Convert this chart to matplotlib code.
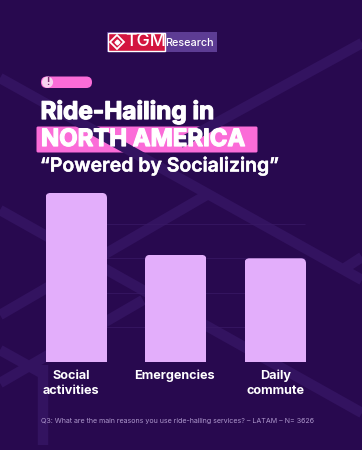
import matplotlib
matplotlib.use("Agg")
import matplotlib.pyplot as plt
import matplotlib.patheffects as pe
from matplotlib.patches import FancyBboxPatch, Rectangle, Circle
from matplotlib.transforms import IdentityTransform

plt.rcParams['font.family'] = ['Inter', 'DejaVu Sans']

categories = ["Social\nactivities", "Emergencies", "Daily\ncommute"]
values = [49, 31, 30]
grid_ticks = [10, 20, 30, 40]

title_top = "Ride-Hailing in"
title_mid = "NORTH AMERICA"
title_low = "\u201cPowered by Socializing\u201d"
footnote = "Q3: What are the main reasons you use ride-hailing services? \u2013 LATAM \u2013 N= 3626"

bg = "#28094f"
band = "#331360"
pink = "#fb6cd8"
bar_col = "#e3aefb"

W, H = 362, 450
fig = plt.figure(figsize=(W / 100, H / 100), dpi=100, facecolor=bg)

# fake a heavier weight, the installed fonts stop short of black
heavy = [pe.withStroke(linewidth=0.9, foreground="white")]
medium = [pe.withStroke(linewidth=0.35, foreground="white")]

# background + decoration in pixel coords
back = fig.add_axes([0, 0, 1, 1])
back.set_xlim(0, W)
back.set_ylim(H, 0)
back.axis('off')

bands = [
    ((362, 43), (180, 143)),
    ((210, 193), (0, 315)),
    ((0, 78), (362, 280)),
    ((0, 210), (362, 413)),
    ((143, 300), (0, 383)),
    ((362, 257), (345, 268)),
    ((0, 350), (45, 375)),
    ((43, 365), (43, 445)),
]
for p0, p1 in bands:
    back.plot([p0[0], p1[0]], [p0[1], p1[1]], color=band, lw=7.5, solid_capstyle='butt')

# logo
back.add_patch(Rectangle((107, 31.5), 110, 20, fc="#5d3c94", ec="none"))
back.add_patch(Rectangle((108, 32.5), 57, 18.5, fc="#d3153f", ec="white", lw=1))
back.plot([117], [42], marker='D', ms=7, mfc="none", mec="white", mew=1.3)
back.plot([117], [42], marker='D', ms=2.5, color="white")
back.text(125, 42, "TGM", color="white", fontsize=12.8, fontweight='medium', va='center', ha='left')
back.text(165, 42.5, "Research", color="white", fontsize=7.8, fontweight='medium', va='center', ha='left')

# pill
back.add_patch(FancyBboxPatch((41, 76.5), 51, 11.5, boxstyle="round,pad=0,rounding_size=5.7",
                              fc=pink, ec="none"))
back.add_patch(Circle((47.5, 82.2), 5.6, fc="#f6d3f0", ec="none"))
back.text(47.5, 82.4, "!", color="#7a2a70", fontsize=7, fontweight='bold', ha='center', va='center')

# title
back.add_patch(FancyBboxPatch((36.5, 126.5), 221, 26, boxstyle="round,pad=0,rounding_size=1.5",
                              fc=pink, ec="none"))
back.text(40.5, 111.5, title_top, color="white", fontsize=17.5, fontweight='bold', ha='left', va='center',
          path_effects=heavy)
back.text(41, 140, title_mid, color="white", fontsize=17.2, fontweight='bold', ha='left', va='center',
          path_effects=heavy)
back.text(40, 166, title_low, color="white", fontsize=14, fontweight='semibold', ha='left', va='center',
          path_effects=medium)

back.text(41, 421.5, footnote, color="#ad97cc", fontsize=5.12, ha='left', va='center')

# chart
ax = fig.add_axes([26.5 / W, (H - 361.5) / H, 298.5 / W, 172 / H])
ax.patch.set_alpha(0)
ax.set_xlim(-0.5, 2.5)
ax.set_ylim(0, 50)
for s in ax.spines.values():
    s.set_visible(False)
ax.set_yticks([])
ax.set_xticks([])
ax.hlines(grid_ticks, -0.19, 2.3, color="#3a1a66", lw=0.5, zorder=1)

rects = ax.bar(range(len(values)), values, width=0.618, color=bar_col, zorder=2)

fig.canvas.draw()
for r in rects:
    # round the top corners only
    bb = r.get_window_extent()
    clip = FancyBboxPatch((bb.x0, bb.y0 - 10), bb.width, bb.height + 10,
                          boxstyle="round,pad=0,rounding_size=5", transform=IdentityTransform())
    r.set_clip_path(clip)

label_shift = [-3.5, -1, 0]
for i, cat in enumerate(categories):
    ax.annotate(cat, (i, 0), xytext=(label_shift[i], -6), textcoords='offset points',
                ha='center', va='top', color="white", fontsize=9.1, fontweight='bold',
                linespacing=1.32, annotation_clip=False)

fig.savefig("out.png", dpi=100, facecolor=bg)
